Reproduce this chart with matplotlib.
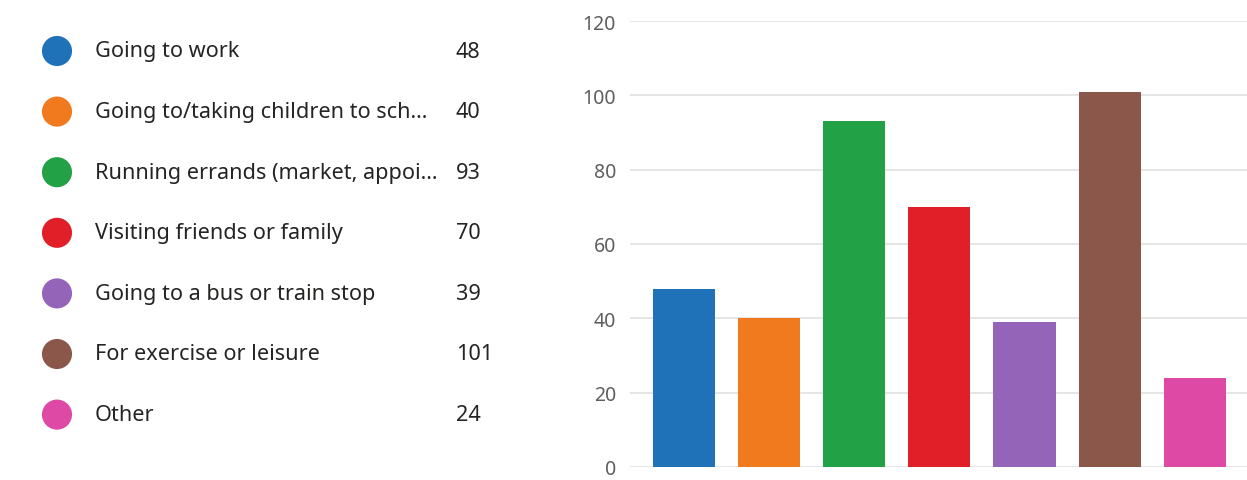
import matplotlib
matplotlib.use('Agg')
import matplotlib.pyplot as plt

labels = ['Going to work', 'Going to/taking children to sch...', 'Running errands (market, appoi...',
          'Visiting friends or family', 'Going to a bus or train stop', 'For exercise or leisure', 'Other']
counts = [48, 40, 93, 70, 39, 101, 24]
colors = ['#1f72b8', '#f27a1e', '#23a146', '#e11f28', '#9464b9', '#8b574b', '#dd49a4']
yticks = [0, 20, 40, 60, 80, 100, 120]

plt.rcParams['font.family'] = ['Noto Sans', 'DejaVu Sans']

fig = plt.figure(figsize=(12.47, 4.81), dpi=100)

# legend list on the left
leg = fig.add_axes([0, 0, 0.42, 1])
leg.set_xlim(0, 0.42 * 1247)
leg.set_ylim(481, 0)
leg.axis('off')
rows = [52 + i * 60.6 for i in range(len(labels))]
leg.scatter([57] * len(rows), rows, s=470, c=colors, edgecolors='none')
for y, lab, n in zip(rows, labels, counts):
    leg.text(95, y, lab, fontsize=15.6, color='#252423', va='center', ha='left')
    leg.text(456, y, str(n), fontsize=15.6, color='#252423', va='center', ha='left')

# bar chart on the right
ax = fig.add_axes([630 / 1247, 1 - 468 / 481, 1 - 630 / 1247, 446 / 481])
x = range(len(counts))
ax.bar(x, counts, width=0.73, color=colors, zorder=3)
ax.set_xlim(-0.63, 6.61)
ax.set_ylim(0, 120)
ax.set_yticks(yticks)
ax.set_xticks([])
ax.grid(axis='y', color='#e3e3e3', linewidth=1.3, zorder=0)
for s in ax.spines.values():
    s.set_visible(False)
ax.tick_params(axis='y', length=0, pad=10, labelsize=14, labelcolor='#605e5c')

fig.savefig('out.png', dpi=100)
